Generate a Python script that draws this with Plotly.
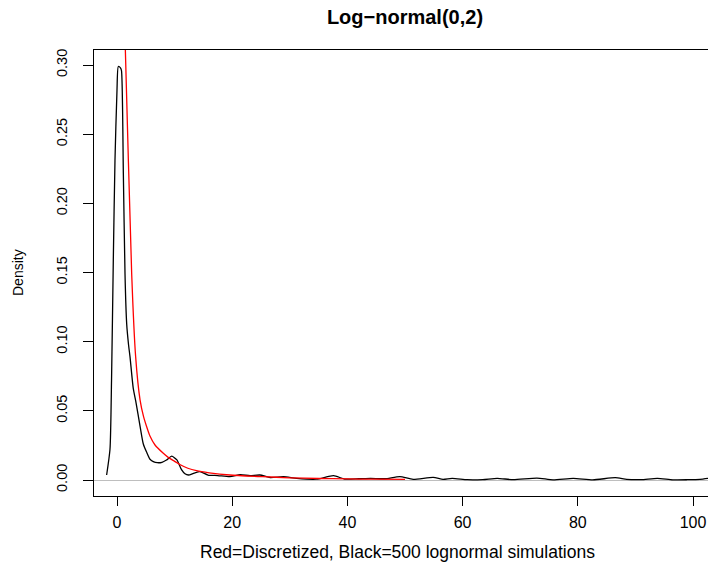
import plotly.graph_objects as go

# Black: kernel density of 500 lognormal simulations
black_x = [-1.8, -1.22, -0.95, -0.64, -0.35, 0.0, 0.23, 0.6, 0.78, 1.1, 1.39, 1.68, 2.0, 2.26, 2.83,
           3.3, 4.0, 4.57, 5.15, 5.73, 6.3, 7.0, 7.8, 8.6, 9.5, 10.4, 11.2, 11.8, 12.4, 13.4, 14.4,
           15.8, 17.5, 19.6, 21.4, 23.1, 24.8, 26.6, 28.9, 31.2, 34.6, 37.6, 39.5, 42.0, 44.0, 46.5,
           49.1, 51.4, 54.9, 56.6, 58.2, 60.8, 63.5, 66.0, 68.8, 72.9, 75.7, 79.2, 82.6, 86.5, 88.5,
           91.0, 93.8, 96.5, 99.0, 101.2, 102.6]
black_y = [0.0036, 0.022, 0.072, 0.159, 0.231, 0.282, 0.299, 0.298, 0.296, 0.222, 0.149, 0.113, 0.098,
           0.089, 0.066, 0.056, 0.039, 0.026, 0.020, 0.0150, 0.0133, 0.0125, 0.0128, 0.0145, 0.0172,
           0.0145, 0.0075, 0.0045, 0.0036, 0.0050, 0.0060, 0.0036, 0.0032, 0.0024, 0.0038, 0.0031,
           0.0036, 0.0018, 0.0024, 0.0012, 0.0006, 0.0031, 0.0007, 0.0009, 0.0012, 0.0009, 0.0024,
           0.0005, 0.0019, 0.0005, 0.0012, 0.0002, 0.0003, 0.0012, 0.0002, 0.0014, 0.0001, 0.0012,
           0.0001, 0.0017, 0.0005, 0.0003, 0.0012, 0.0001, 0.0002, 0.0005, 0.0012]

# Red: discretized log-normal
red_x = [1.0, 1.45, 2.55, 3.24, 4.0, 4.6, 5.15, 5.7, 6.6, 8.04, 9.0, 10.0, 10.9, 12.3, 13.8, 16.0,
         19.6, 25.3, 30.0, 35.0, 40.0, 45.0, 50.0]
red_y = [0.378, 0.311, 0.149, 0.089, 0.058, 0.046, 0.0385, 0.032, 0.0253, 0.0193, 0.016, 0.0135,
         0.0112, 0.0085, 0.0067, 0.0052, 0.0036, 0.0024, 0.0016, 0.0011, 0.0008, 0.0006, 0.0004]

x_ticks = [0, 20, 40, 60, 80, 100]
y_ticks = [0.00, 0.05, 0.10, 0.15, 0.20, 0.25, 0.30]
y_tick_labels = ["0.00", "0.05", "0.10", "0.15", "0.20", "0.25", "0.30"]

FONT = "Liberation Sans, Arial, Helvetica, sans-serif"

fig = go.Figure()
fig.add_trace(go.Scatter(x=black_x, y=black_y, mode="lines",
                         line=dict(color="black", width=1.3, shape="spline", smoothing=0.6),
                         showlegend=False, hoverinfo="skip"))
fig.add_trace(go.Scatter(x=red_x, y=red_y, mode="lines",
                         line=dict(color="#ff0000", width=1.3, shape="spline", smoothing=0.5),
                         showlegend=False, hoverinfo="skip"))

fig.update_layout(
    width=708, height=569,
    margin=dict(l=94, r=0, t=50, b=73),
    paper_bgcolor="white", plot_bgcolor="white",
    font=dict(family=FONT, color="black", size=15),
    title=dict(text="<b>Log\u2212normal(0,2)</b>", x=0.5065, xref="paper", xanchor="center",
               y=1 - 17 / 569, yref="container", yanchor="middle",
               font=dict(size=20, family=FONT, color="black")),
    xaxis=dict(range=[-3.993, 102.6], tickvals=x_ticks, ticktext=[str(v) for v in x_ticks],
               showgrid=False, zeroline=False, showline=True, mirror=True,
               linecolor="black", linewidth=1, ticks="outside", ticklen=9,
               tickcolor="black", tickwidth=1, tickfont=dict(size=16),
               ticklabelstandoff=3),
    yaxis=dict(range=[-0.01157, 0.3109], tickvals=y_ticks, ticktext=y_tick_labels,
               tickangle=-90, showgrid=False, zeroline=True, zerolinecolor="#bebebe",
               zerolinewidth=1, showline=True, mirror=False, linecolor="black", linewidth=1,
               ticks="outside", ticklen=10, tickcolor="black", tickwidth=1,
               tickfont=dict(size=14.5), ticklabelstandoff=10),
    annotations=[
        dict(text="Red=Discretized, Black=500 lognormal simulations", xref="paper", yref="paper",
             x=0.495, y=-(552 - 496) / 446, xanchor="center", yanchor="middle",
             showarrow=False, font=dict(size=17.5, family=FONT)),
        dict(text="Density", xref="paper", yref="paper", x=-(94 - 18) / 614, y=0.5,
             xanchor="center", yanchor="middle", textangle=-90, showarrow=False,
             font=dict(size=14, family=FONT)),
    ],
)

fig.write_html("out.html")
